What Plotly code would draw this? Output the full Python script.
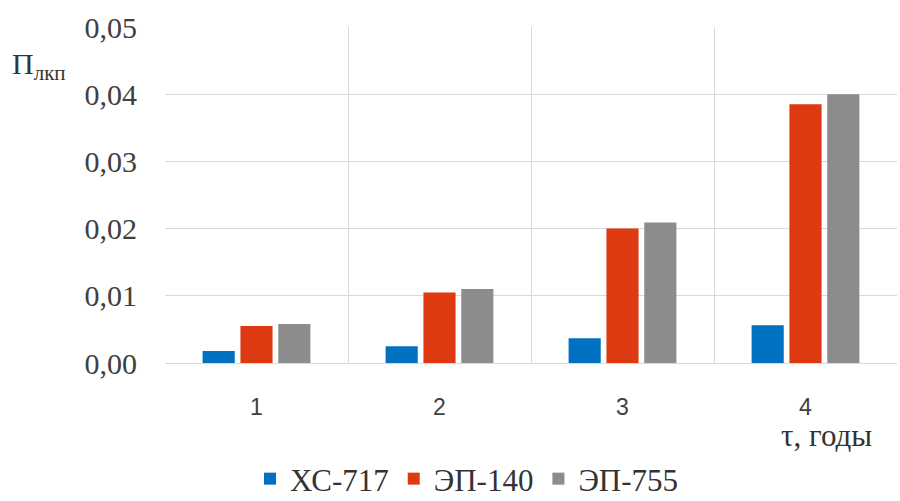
import plotly.graph_objects as go

# Years of service and coating damage index per paint system
years = ["1", "2", "3", "4"]
series_names = ["ХС-717", "ЭП-140", "ЭП-755"]
xs717 = [0.0018, 0.0025, 0.0037, 0.0056]
ep140 = [0.0055, 0.0105, 0.0200, 0.0385]
ep755 = [0.0058, 0.0110, 0.0209, 0.0400]
y_ticks = [0.00, 0.01, 0.02, 0.03, 0.04, 0.05]

colors = ["#0070C0", "#DE3A12", "#8C8C8C"]
serif = "Liberation Serif"
sans = "Liberation Sans"

fig = go.Figure()
for name, vals, col in zip(series_names, [xs717, ep140, ep755], colors):
    fig.add_trace(go.Bar(x=years, y=vals, name=name, marker=dict(color=col, line=dict(width=0))))

W, H = 900, 501
L, R, T, B = 165, 3, 27, 138
pw, ph = W - L - R, H - T - B

fig.update_layout(
    width=W, height=H,
    margin=dict(l=L, r=R, t=T, b=B, autoexpand=False),
    paper_bgcolor="white", plot_bgcolor="white",
    font=dict(family=serif, color="#333333"),
    barmode="group", bargap=0.38, bargroupgap=0.15,
    separators=", ",
    showlegend=True,
    legend=dict(
        orientation="h", x=(467 - L) / pw, xanchor="center",
        y=(H - B - 506) / ph, yanchor="bottom",
        font=dict(family=serif, size=31, color="#333333"),
        itemwidth=30, traceorder="normal",
    ),
    xaxis=dict(
        type="category", tickson="boundaries", showgrid=True,
        gridcolor="#D9D9D9", gridwidth=1, showline=False, ticks="",
        tickfont=dict(family=sans, size=23, color="#404040"),
        ticklabelstandoff=28,
    ),
    yaxis=dict(
        range=[0, 0.05], tickvals=y_ticks, tickformat=".2f",
        showgrid=True, gridcolor="#D9D9D9", gridwidth=1,
        zeroline=True, zerolinecolor="#D9D9D9", zerolinewidth=1,
        showline=False, ticks="",
        tickfont=dict(family=serif, size=30, color="#404040"),
        ticklabelstandoff=27,
    ),
    annotations=[
        dict(text="П<sub>лкп</sub>", xref="paper", yref="paper",
             x=(10 - L) / pw, y=(H - B - 66) / ph, xanchor="left", yanchor="middle",
             showarrow=False, font=dict(family=serif, size=30, color="#333333")),
        dict(text="τ, годы", xref="paper", yref="paper",
             x=(826 - L) / pw, y=(H - B - 436) / ph, xanchor="center", yanchor="middle",
             showarrow=False, font=dict(family=serif, size=31, color="#333333")),
    ],
)

fig.write_html("out.html")
